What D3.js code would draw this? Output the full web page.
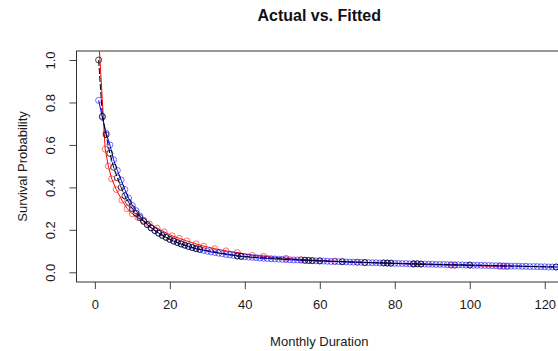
<!DOCTYPE html>
<html>
<head>
<meta charset="utf-8">
<script src="https://cdn.jsdelivr.net/npm/d3@7"></script>
<style>
  body { margin: 0; overflow: hidden; background: #fff; }
  svg { font-family: "Liberation Sans", Arial, sans-serif; }
  .axis text { font-size: 13px; fill: #1a1a1a; }
</style>
</head>
<body>
<div id="chart"></div>
<script>
// actual survival (black)
const actualTime = [1, 2, 3, 4, 5, 6, 7, 8, 9, 10, 11, 12, 13, 14, 15, 16, 17, 18, 19, 20,
  21, 22, 23, 24, 25, 26, 27, 28, 38, 39, 56, 57, 58, 60, 66, 72, 77, 78, 79, 85, 86, 87, 100, 123];
const actualSurv = [1.0, 0.735, 0.648, 0.56, 0.495, 0.445, 0.40, 0.36, 0.33, 0.30, 0.278, 0.258,
  0.24, 0.224, 0.209, 0.196, 0.184, 0.173, 0.164, 0.155, 0.147, 0.140, 0.134, 0.128, 0.122, 0.117,
  0.112, 0.108, 0.077, 0.075, 0.057, 0.056, 0.055, 0.054, 0.050, 0.046, 0.044, 0.044, 0.043,
  0.040, 0.040, 0.039, 0.034, 0.025];

// fitted model 1 (red)
const redTime = [1.1, 2.75, 3.6, 4.5, 5.7, 7.2, 8.6, 10, 11.5, 13, 14.5, 16.6, 18.5, 20.6, 22.5,
  24.5, 27, 29, 32, 35, 38, 42, 45, 51, 55, 64, 70, 85, 95, 96, 108, 109, 110];
const redSurv = [1.08, 0.58, 0.50, 0.44, 0.39, 0.34, 0.30, 0.275, 0.258, 0.24, 0.228, 0.208,
  0.19, 0.172, 0.160, 0.148, 0.134, 0.123, 0.111, 0.101, 0.093, 0.080, 0.075, 0.066, 0.060,
  0.052, 0.048, 0.038, 0.033, 0.033, 0.028, 0.028, 0.027];

// fitted model 2 (blue), one value per month 1..125
const blueSurv = [0.81, 0.73, 0.655, 0.60, 0.53, 0.48, 0.435, 0.39, 0.35, 0.315,
  0.29, 0.265, 0.245, 0.225, 0.21, 0.197, 0.185, 0.175, 0.165, 0.155,
  0.147, 0.14, 0.133, 0.127, 0.121, 0.116, 0.111, 0.107, 0.103, 0.099,
  0.096, 0.093, 0.090, 0.087, 0.084, 0.082, 0.080, 0.077, 0.075, 0.073,
  0.072, 0.070, 0.069, 0.067, 0.066, 0.065, 0.064, 0.063, 0.062, 0.061,
  0.060, 0.059, 0.058, 0.058, 0.057, 0.056, 0.055, 0.055, 0.054, 0.053,
  0.053, 0.052, 0.051, 0.051, 0.050, 0.050, 0.049, 0.048, 0.048, 0.047,
  0.047, 0.046, 0.046, 0.045, 0.045, 0.044, 0.044, 0.043, 0.043, 0.042,
  0.042, 0.041, 0.041, 0.040, 0.040, 0.040, 0.039, 0.039, 0.038, 0.038,
  0.037, 0.037, 0.037, 0.036, 0.036, 0.035, 0.035, 0.035, 0.034, 0.034,
  0.033, 0.033, 0.033, 0.032, 0.032, 0.031, 0.031, 0.031, 0.030, 0.030,
  0.029, 0.029, 0.029, 0.028, 0.028, 0.027, 0.027, 0.027, 0.026, 0.026,
  0.025, 0.025, 0.025, 0.024, 0.024];
const blueTime = blueSurv.map((d, i) => i + 1);

const xTicks = [0, 20, 40, 60, 80, 100, 120];
const yTicks = [0.0, 0.2, 0.4, 0.6, 0.8, 1.0];

const margin = {top: 51, right: 40, bottom: 69, left: 76.5};
const width  = 562 - margin.left;
const height = 282 - margin.top;

const svg = d3.select('#chart')
  .append('svg')
  .attr('width', 602)
  .attr('height', 351);

svg.append('defs')
  .append('clipPath')
  .attr('id', 'clip')
  .append('rect')
  .attr('width', width)
  .attr('height', height);

const g = svg.append('g')
  .attr('transform', 'translate(' + margin.left + ',' + margin.top + ')');

const x = d3.scaleLinear().domain([-4.9, 124.6]).range([0, width]);
const y = d3.scaleLinear().domain([-0.0457, 1.0424]).range([height, 0]);

// axes
const xAxis = g.append('g')
  .attr('class', 'axis')
  .attr('transform', 'translate(0,' + height + ')')
  .call(d3.axisBottom(x).tickValues(xTicks).tickSize(7).tickPadding(11).tickFormat(d3.format('d')));
xAxis.select('.domain').remove();
xAxis.selectAll('line').attr('stroke', '#444');

const yAxis = g.append('g')
  .attr('class', 'axis')
  .call(d3.axisLeft(y).tickValues(yTicks).tickSize(7).tickFormat(d3.format('.1f')));
yAxis.select('.domain').remove();
yAxis.selectAll('line').attr('stroke', '#444');
yAxis.selectAll('text')
  .attr('x', null).attr('dy', null)
  .attr('text-anchor', 'middle')
  .attr('transform', 'translate(-22,0) rotate(-90)');

// plot box
g.append('rect')
  .attr('width', width)
  .attr('height', height)
  .attr('fill', 'none')
  .attr('stroke', '#333')
  .attr('stroke-width', 1);

const plot = g.append('g').attr('clip-path', 'url(#clip)');

function drawSeries(times, values, color, dash, opacity) {
  const pts = times.map((t, i) => [t, values[i]]);
  plot.append('g')
    .selectAll('circle')
    .data(pts)
    .join('circle')
    .attr('cx', d => x(d[0]))
    .attr('cy', d => y(d[1]))
    .attr('r', 3)
    .attr('fill', 'none')
    .attr('stroke', color)
    .attr('stroke-opacity', opacity)
    .attr('stroke-width', 1);
  plot.append('path')
    .datum(pts)
    .attr('fill', 'none')
    .attr('stroke', color)
    .attr('stroke-width', 1)
    .attr('stroke-dasharray', dash)
    .attr('d', d3.line().x(d => x(d[0])).y(d => y(d[1])));
}

drawSeries(redTime, redSurv, '#ff0000', null, 0.55);
drawSeries(blueTime, blueSurv, '#0000ff', null, 0.55);
drawSeries(actualTime, actualSurv, '#000000', '6,2', 0.7);

// titles
svg.append('text')
  .attr('x', margin.left + width / 2)
  .attr('y', 21)
  .attr('text-anchor', 'middle')
  .style('font-size', '16px')
  .style('font-weight', 'bold')
  .attr('fill', '#111')
  .text('Actual vs. Fitted');

svg.append('text')
  .attr('x', margin.left + width / 2)
  .attr('y', 346)
  .attr('text-anchor', 'middle')
  .style('font-size', '13px')
  .attr('fill', '#1a1a1a')
  .text('Monthly Duration');

svg.append('text')
  .attr('transform', 'translate(26.5,' + (margin.top + height / 2) + ') rotate(-90)')
  .attr('text-anchor', 'middle')
  .style('font-size', '13px')
  .attr('fill', '#1a1a1a')
  .text('Survival Probability');
</script>
</body>
</html>
